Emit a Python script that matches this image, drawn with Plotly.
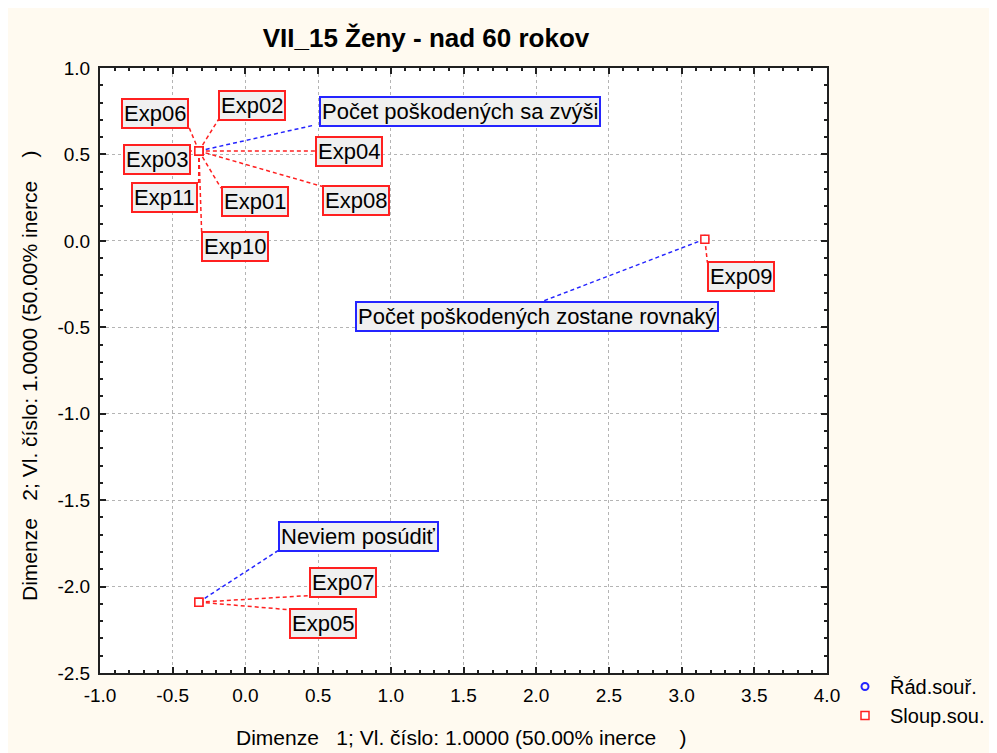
import plotly.graph_objects as go

# ---------------- data ----------------
row_labels = ["Počet poškodených sa zvýši", "Počet poškodených zostane rovnaký", "Neviem posúdiť"]
row_x = [-0.32, 3.16, -0.32]
row_y = [0.52, 0.01, -2.09]

col_labels = ["Exp01", "Exp02", "Exp03", "Exp04", "Exp05", "Exp06",
              "Exp07", "Exp08", "Exp09", "Exp10", "Exp11"]
col_x = [-0.32, -0.32, -0.32, -0.32, -0.32, -0.32, -0.32, -0.32, 3.16, -0.32, -0.32]
col_y = [0.52, 0.52, 0.52, 0.52, -2.09, 0.52, -2.09, 0.52, 0.01, 0.52, 0.52]

# label box centres (data units) and where the leader line meets the box
row_lab_x = [1.474, 2.005, 0.779]
row_lab_y = [0.747, -0.440, -1.709]
row_lab_anchor = ["near", "tc", "near"]

col_lab_x = [0.064, 0.047, -0.607, 0.711, 0.532, -0.620, 0.673, 0.763, 3.409, -0.069, -0.553]
col_lab_y = [0.227, 0.781, 0.471, 0.516, -2.212, 0.736, -1.974, 0.236, -0.204, -0.034, 0.249]
col_lab_anchor = ["near"] * 11

x_ticks = [-1.0, -0.5, 0.0, 0.5, 1.0, 1.5, 2.0, 2.5, 3.0, 3.5, 4.0]
y_ticks = [-2.5, -2.0, -1.5, -1.0, -0.5, 0.0, 0.5, 1.0]

title = "VII_15 Ženy - nad 60 rokov"
NB = "\u00a0"
x_title = "Dimenze" + NB * 2 + " 1; Vl. číslo: 1.0000 (50.00% inerce" + NB * 3 + " )"
y_title = "Dimenze" + NB * 2 + " 2; Vl. číslo: 1.0000 (50.00% inerce" + NB * 3 + " )"
legend_names = ["Řád.souř.", "Sloup.sou."]

# ---------------- layout constants ----------------
W, H = 997, 753
ML, MT = 92, 60
PW, PH = 727, 605
MR, MB = W - ML - PW, H - MT - PH
XR = [-1.0, 4.0]
YR = [-2.5, 1.0]
FONT = "Liberation Sans, Arial, sans-serif"
LAB_FS = 22
PAD, BW = 1, 2
BOX_H = 29
RED = "#ff2020"
BLUE = "#2424ff"
CREAM = "#fffaf0"

px_x = PW / (XR[1] - XR[0])
px_y = PH / (YR[1] - YR[0])

NARROW = set("iljtfrI .,;:ťí")


def text_w(s, fs):
    w = 0.0
    for ch in s:
        if ch in NARROW:
            w += 0.28
        elif ch in "mwM":
            w += 0.83
        elif ch.isupper():
            w += 0.68
        else:
            w += 0.55
    return w * fs


def clamp(v, lo, hi):
    return max(lo, min(hi, v))


def leader(px, py, lx, ly, text, mode):
    hw = ((text_w(text, LAB_FS) + 2 * PAD + 2 * BW) / 2 - 1) / px_x
    hh = (BOX_H / 2 - 1) / px_y
    if mode == "tc":
        return lx, ly + hh
    return clamp(px, lx - hw, lx + hw), clamp(py, ly - hh, ly + hh)


def leader_xy(xs, ys, lxs, lys, texts, modes):
    lx_all, ly_all = [], []
    for px, py, lx, ly, t, m in zip(xs, ys, lxs, lys, texts, modes):
        ax, ay = leader(px, py, lx, ly, t, m)
        lx_all += [px, ax, None]
        ly_all += [py, ay, None]
    return lx_all, ly_all


fig = go.Figure()

rlx, rly = leader_xy(row_x, row_y, row_lab_x, row_lab_y, row_labels, row_lab_anchor)
clx, cly = leader_xy(col_x, col_y, col_lab_x, col_lab_y, col_labels, col_lab_anchor)

fig.add_trace(go.Scatter(x=clx, y=cly, mode="lines", showlegend=False, hoverinfo="skip",
                         line=dict(color=RED, width=1.5, dash="4px,3px")))
fig.add_trace(go.Scatter(x=rlx, y=rly, mode="lines", showlegend=False, hoverinfo="skip",
                         line=dict(color=BLUE, width=1.5, dash="4px,3px")))

fig.add_trace(go.Scatter(x=row_x, y=row_y, mode="markers", name=legend_names[0],
                         marker=dict(symbol="circle-open", size=7, color=BLUE, line=dict(width=2, color=BLUE))))
fig.add_trace(go.Scatter(x=col_x, y=col_y, mode="markers", name=legend_names[1],
                         marker=dict(symbol="square", size=8, color="white", line=dict(width=1.5, color=RED))))

annotations = []
for t, x, y in zip(row_labels, row_lab_x, row_lab_y):
    annotations.append(dict(text=t, x=x, y=y, xref="x", yref="y", showarrow=False,
                            bgcolor="#f0f0f0", bordercolor=BLUE, borderwidth=BW, borderpad=PAD,
                            font=dict(family=FONT, size=LAB_FS, color="black")))
for t, x, y in zip(col_labels, col_lab_x, col_lab_y):
    annotations.append(dict(text=t, x=x, y=y, xref="x", yref="y", showarrow=False,
                            bgcolor="#f0f0f0", bordercolor=RED, borderwidth=BW, borderpad=PAD,
                            font=dict(family=FONT, size=LAB_FS, color="black")))

annotations.append(dict(text=x_title, xref="paper", yref="paper",
                        x=(453 - ML) / PW, y=(H - MB - 729) / PH, showarrow=False,
                        xanchor="center", yanchor="middle",
                        font=dict(family=FONT, size=21, color="black")))
annotations.append(dict(text=y_title, xref="paper", yref="paper",
                        x=(22 - ML) / PW, y=(H - MB - 368) / PH, showarrow=False, textangle=-90,
                        xanchor="center", yanchor="middle",
                        font=dict(family=FONT, size=21, color="black")))

axis_common = dict(showgrid=True, gridcolor="#b4b4b4", gridwidth=1, griddash="dot",
                   zeroline=False, showline=True, linecolor="#202020", linewidth=2,
                   mirror="ticks", ticks="inside", ticklen=6, tickwidth=1.5, tickcolor="#202020",
                   ticklabelstandoff=4,
                   tickfont=dict(family=FONT, size=19, color="black"),
                   minor=dict(ticks="inside", ticklen=3, tickwidth=1.5, tickcolor="#202020",
                              dtick=0.1, showgrid=False))

fig.update_layout(
    width=W, height=H,
    margin=dict(l=ML, r=MR, t=MT, b=MB, autoexpand=False),
    paper_bgcolor=CREAM, plot_bgcolor="white",
    title=dict(text="<b>" + title + "</b>", x=418 / W, xref="container", xanchor="center",
               y=1 - 30 / H, yref="container", yanchor="middle",
               font=dict(family=FONT, size=26, color="black")),
    xaxis=dict(range=XR, tickmode="array", tickvals=x_ticks,
               ticktext=[f"{v:.1f}" for v in x_ticks], **axis_common),
    yaxis=dict(range=YR, tickmode="array", tickvals=y_ticks,
               ticktext=[f"{v:.1f}" for v in y_ticks], **axis_common),
    showlegend=True,
    legend=dict(xref="container", yref="container", x=832 / W, y=1 - 659 / H,
                xanchor="left", yanchor="top", bgcolor="rgba(0,0,0,0)",
                font=dict(family=FONT, size=20, color="black"), itemwidth=40,
                tracegroupgap=0),
    annotations=annotations,
    hovermode=False,
)

fig.write_html("out.html")
